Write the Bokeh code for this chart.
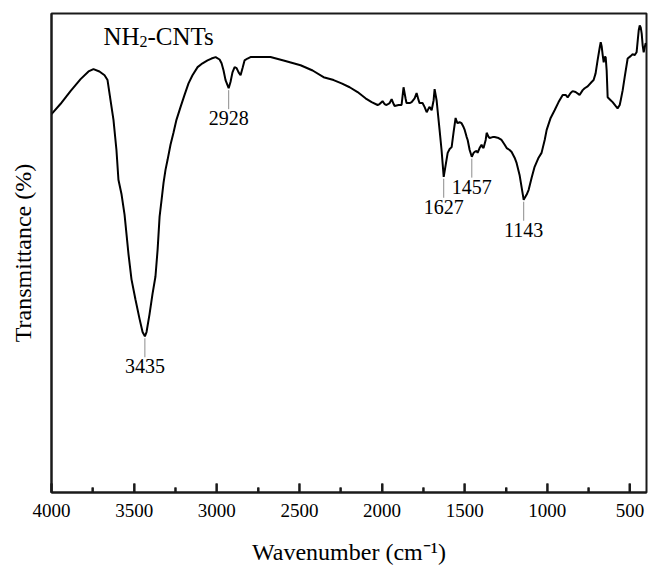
import numpy as np
from bokeh.plotting import figure
from bokeh.models import Range1d, FixedTicker
from bokeh.core.properties import value
from bokeh.embed import file_html
from bokeh.resources import INLINE

# ---------------- data ----------------
wavenumber = [4000, 3946, 3885, 3824, 3776, 3746, 3710, 3679, 3661, 3643,
              3625, 3607, 3595, 3576, 3558, 3534, 3516, 3492, 3467, 3449,
              3435, 3425, 3407, 3389, 3371, 3358, 3346, 3334, 3322, 3310,
              3298, 3280, 3262, 3244, 3219, 3195, 3171, 3147, 3116, 3086,
              3056, 3032, 3007, 2983, 2971, 2959, 2947, 2928, 2917, 2905,
              2892, 2880, 2868, 2856, 2844, 2832, 2814, 2796, 2735, 2675,
              2596, 2493, 2420, 2354, 2293, 2245, 2196, 2148, 2100, 2063,
              2027, 2015, 1997, 1985, 1973, 1954, 1942, 1930, 1924, 1900,
              1882, 1870, 1858, 1852, 1833, 1821, 1803, 1791, 1779, 1773,
              1755, 1743, 1730, 1718, 1712, 1700, 1688, 1682, 1670, 1664,
              1652, 1640, 1627, 1615, 1603, 1591, 1579, 1567, 1555, 1549,
              1543, 1531, 1519, 1507, 1500, 1488, 1482, 1470, 1457, 1446,
              1440, 1428, 1422, 1410, 1398, 1392, 1386, 1373, 1367, 1355,
              1349, 1331, 1319, 1295, 1277, 1258, 1246, 1228, 1216, 1198,
              1186, 1168, 1156, 1143, 1137, 1125, 1113, 1095, 1077, 1053,
              1035, 1016, 1004, 980, 956, 932, 907, 889, 877, 859,
              847, 829, 805, 786, 774, 756, 732, 720, 708, 696,
              683, 677, 671, 665, 659, 653, 647, 641, 635, 617,
              605, 587, 575, 562, 556, 544, 532, 514, 496, 484,
              472, 460, 453, 447, 441, 435, 429, 423, 417, 411, 405, 400]

transmittance = [79.0, 81.1, 83.8, 86.3, 87.9, 88.4, 87.9, 87.1, 86.1, 81.9,
                 77.8, 71.5, 65.3, 62.2, 58.0, 49.7, 44.5, 40.3, 36.2, 33.5,
                 32.6, 33.5, 37.2, 41.4, 45.1, 50.7, 57.6, 61.1, 64.7, 67.4,
                 69.4, 72.6, 75.1, 77.8, 80.5, 83.0, 85.4, 87.1, 88.8, 89.6,
                 90.2, 90.6, 90.9, 90.4, 89.6, 88.1, 86.1, 84.4, 85.7, 87.7,
                 88.8, 88.6, 87.7, 87.1, 88.6, 90.2, 90.6, 90.9, 90.9, 90.9,
                 90.2, 89.2, 88.1, 86.7, 86.1, 85.4, 84.6, 83.6, 82.3, 81.5,
                 80.9, 81.1, 81.7, 81.1, 80.9, 81.3, 82.1, 81.1, 80.7, 80.9,
                 80.9, 84.6, 82.3, 81.3, 81.3, 81.5, 82.3, 83.4, 81.9, 81.3,
                 81.3, 80.5, 79.4, 80.2, 80.5, 79.8, 81.9, 84.2, 81.9, 79.8,
                 75.7, 71.5, 65.9, 68.4, 70.9, 71.7, 72.1, 75.3, 78.2, 77.5,
                 77.1, 77.3, 77.1, 76.3, 75.7, 74.2, 73.6, 71.5, 70.1, 70.9,
                 71.1, 71.3, 70.9, 71.9, 72.6, 72.1, 71.9, 73.6, 75.1, 74.2,
                 74.0, 74.2, 74.2, 74.0, 73.6, 72.6, 71.9, 71.5, 71.1, 69.9,
                 68.8, 66.3, 63.8, 61.1, 61.5, 62.2, 63.2, 65.7, 68.0, 69.9,
                 70.9, 73.6, 75.7, 78.2, 79.8, 81.5, 83.0, 83.0, 82.5, 83.4,
                 83.8, 83.6, 83.0, 84.0, 84.4, 84.8, 85.7, 86.1, 87.5, 90.2,
                 92.9, 94.0, 93.1, 91.3, 89.8, 90.9, 90.9, 88.1, 82.5, 81.9,
                 81.5, 80.7, 80.2, 80.9, 81.9, 84.0, 86.7, 90.6, 91.1, 91.5,
                 91.3, 91.9, 94.4, 96.5, 97.5, 97.1, 95.8, 93.3, 91.9, 92.9, 93.8, 93.3]

peak_positions = [3435, 2928, 1627, 1457, 1143]
peak_labels = ["3435", "2928", "1627", "1457", "1143"]

x_ticks = [4000, 3500, 3000, 2500, 2000, 1500, 1000, 500]
x_minor_ticks = [3750, 3250, 2750, 2250, 1750, 1250, 750]

sample_parts = ["NH", "2", "-CNTs"]

x_label = "Wavenumber (cm\u207b\u00b9)"
y_label = "Transmittance (%)"

# ---------------- figure ----------------
FONT = "Liberation Serif"
AXIS_COLOR = "#1a1a1a"
units_per_px = 100.0 / 481.0

p = figure(width=648, height=567, output_backend="svg", toolbar_location=None,
           x_range=Range1d(4000, 400), y_range=Range1d(0, 100),
           min_border_left=51, min_border_right=2, min_border_top=13,
           min_border_bottom=73)
p.grid.visible = False
p.outline_line_color = AXIS_COLOR
p.outline_line_width = 2

# x axis with inward ticks
xa = p.xaxis[0]
xa.ticker = FixedTicker(ticks=x_ticks, minor_ticks=x_minor_ticks)
xa.axis_line_color = AXIS_COLOR
xa.axis_line_width = 2
xa.major_tick_in = 9
xa.major_tick_out = 0
xa.minor_tick_in = 5
xa.minor_tick_out = 0
xa.major_tick_line_color = AXIS_COLOR
xa.minor_tick_line_color = AXIS_COLOR
xa.major_tick_line_width = 2
xa.minor_tick_line_width = 2
xa.major_label_text_font = FONT
xa.major_label_text_font_size = "19px"
xa.major_label_text_color = "black"
xa.major_label_standoff = 11
xa.axis_label = x_label
xa.axis_label_text_font = FONT
xa.axis_label_text_font_size = "24px"
xa.axis_label_text_font_style = "normal"
xa.axis_label_text_color = "black"
xa.axis_label_standoff = 19

# tick marks also drawn on top of everything, inside the frame
p.segment(x0=x_ticks, y0=[0.0] * len(x_ticks), x1=x_ticks,
          y1=[9 * units_per_px] * len(x_ticks), line_color=AXIS_COLOR,
          line_width=2, level="overlay")
p.segment(x0=x_minor_ticks, y0=[0.0] * len(x_minor_ticks), x1=x_minor_ticks,
          y1=[5 * units_per_px] * len(x_minor_ticks), line_color=AXIS_COLOR,
          line_width=2, level="overlay")

# y axis (no ticks)
ya = p.yaxis[0]
ya.ticker = FixedTicker(ticks=[])
ya.axis_line_color = AXIS_COLOR
ya.axis_line_width = 2
ya.major_tick_line_color = None
ya.minor_tick_line_color = None
ya.major_label_standoff = 0
ya.axis_label = y_label
ya.axis_label_text_font = FONT
ya.axis_label_text_font_size = "24px"
ya.axis_label_text_font_style = "normal"
ya.axis_label_text_color = "black"
ya.axis_label_standoff = 16

# spectrum
p.line(wavenumber, transmittance, line_color="black", line_width=2)

# peak markers
wn_inc = np.array(wavenumber[::-1], dtype=float)
t_inc = np.array(transmittance[::-1], dtype=float)
peak_t = np.interp(peak_positions, wn_inc, t_inc)
drop = 21 * units_per_px
p.segment(x0=peak_positions, y0=list(peak_t - 0.4), x1=peak_positions,
          y1=list(peak_t - drop), line_color="#8c8c8c", line_width=1)
p.text(x=peak_positions, y=list(peak_t - drop), text=peak_labels,
       text_font=value(FONT), text_font_size="20px", text_color="black",
       text_align="center", text_baseline="top", y_offset=2)

# sample name with subscript
tx = 4000 - 52 * 6.052
ty = (494 - 36) * units_per_px
p.text(x=[tx], y=[ty], text=[sample_parts[0]], text_font=value(FONT),
       text_font_size="25px", text_color="black", text_align="left",
       text_baseline="alphabetic")
p.text(x=[tx], y=[ty], text=[sample_parts[1]], text_font=value(FONT),
       text_font_size="16px", text_color="black", text_align="left",
       text_baseline="alphabetic", x_offset=36, y_offset=5)
p.text(x=[tx], y=[ty], text=[sample_parts[2]], text_font=value(FONT),
       text_font_size="25px", text_color="black", text_align="left",
       text_baseline="alphabetic", x_offset=44)

open("out.html", "w").write(file_html(p, INLINE))
